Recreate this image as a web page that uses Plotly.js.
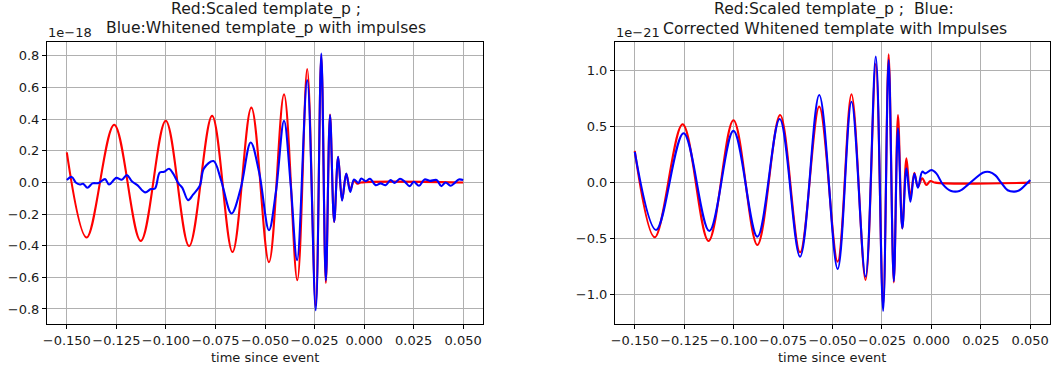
<!DOCTYPE html>
<html>
<head>
<meta charset="utf-8">
<script src="https://cdn.plot.ly/plotly-3.0.1.min.js"></script>
<style>
  html, body { margin: 0; padding: 0; background: #ffffff; }
  #chart { width: 1051px; height: 374px; }
</style>
</head>
<body>
<div id="chart"></div>
<script>
// Left panel: scaled template_p (red) vs whitened template_p with impulses (blue), units of 1e-18.
// Red is given at its turning points; the spline draws the swings between them.
const pRedT = [-0.150, -0.1400, -0.1261, -0.1127, -0.1001, -0.0883, -0.0767, -0.0664, -0.0569, -0.0480,
  -0.0404, -0.0337, -0.0287, -0.0244, -0.0216, -0.0193, -0.0172, -0.0151, -0.0131, -0.0111,
  -0.0090, -0.0070, -0.0050, -0.0035, -0.0015, 0.050];
const pRedV = [0.19, -0.348, 0.365, -0.370, 0.390, -0.402, 0.421, -0.439, 0.473, -0.504,
  0.557, -0.618, 0.717, -0.78, 0.80, -0.635, 0.43, -0.25, 0.16, -0.11,
  0.055, -0.045, 0.012, -0.008, 0, 0];

const pBlueT = [-0.1500, -0.1475, -0.1455, -0.1434, -0.1418, -0.1396, -0.1371, -0.1340, -0.1307, -0.1287,
  -0.1250, -0.1223, -0.1197, -0.1172, -0.1144, -0.1105, -0.1076, -0.1055, -0.1031, -0.1009,
  -0.0984, -0.0964, -0.0937, -0.0917, -0.0888, -0.0863, -0.0829, -0.0808, -0.0760, -0.0723,
  -0.0669, -0.0623, -0.0572, -0.0530, -0.0480, -0.0445, -0.0404, -0.0370, -0.0338,
  -0.0287, -0.0244, -0.0216, -0.0193, -0.0172,
  -0.0151, -0.0131, -0.0111, -0.0090, -0.0070, -0.0051,
  -0.0029, -0.0014, 0.0008, 0.0030, 0.0058, 0.0083, 0.0109, 0.0134, 0.0154, 0.0181,
  0.0206, 0.0230, 0.0251, 0.0277, 0.0305, 0.0332, 0.0366, 0.0389, 0.0411, 0.0436,
  0.0457, 0.0478, 0.0500];
const pBlueV = [0.015, 0.035, 0.0, -0.013, -0.008, -0.034, -0.006, -0.004, 0.021, -0.013,
  0.029, 0.017, 0.046, 0.008, -0.017, -0.063, -0.042, -0.038, 0.063, 0.067,
  0.087, 0.057, -0.006, -0.034, -0.112, -0.077, -0.021, 0.089, 0.135, 0.020,
  -0.196, -0.040, 0.253, 0.067, -0.302, -0.06, 0.390, -0.02, -0.491,
  0.647, -0.808, 0.815, -0.620, 0.426,
  -0.249, 0.162, -0.115, 0.057, -0.060, 0.019,
  -0.003, 0.025, 0.008, 0.023, -0.017, -0.006, -0.017, 0.015, -0.003, 0.023,
  0.004, -0.023, 0.004, -0.021, 0.019, 0.010, 0.015, -0.023, 0.0, -0.021,
  -0.003, 0.019, 0.015];

// Right panel: scaled template_p (red) vs corrected whitened template with impulses (blue), units of 1e-21
const cRedT = [-0.150, -0.1399, -0.1258, -0.1127, -0.1001, -0.0880, -0.0765, -0.0664, -0.0567, -0.0474,
  -0.0404, -0.0333, -0.0281, -0.0244, -0.0216, -0.0190, -0.0169, -0.0147, -0.0126, -0.0106,
  -0.0086, -0.0068, -0.0046, -0.0025, -0.0005, 0.0020, 0.050];
const cRedV = [0.283, -0.488, 0.521, -0.521, 0.557, -0.556, 0.604, -0.622, 0.679, -0.705,
  0.789, -0.869, 1.06, -1.10, 1.146, -0.89, 0.604, -0.408, 0.217, -0.13,
  0.089, -0.036, 0.039, -0.02, 0.015, 0, 0];

const cBlueT = [-0.150, -0.1392, -0.1253, -0.1123, -0.1001, -0.0880, -0.0767, -0.0664, -0.0567, -0.0474,
  -0.0404, -0.0333, -0.0281, -0.0244, -0.0216, -0.0190, -0.0169, -0.0147, -0.0126, -0.0106,
  -0.0086, -0.0068, -0.0046, -0.0030, 0.0000, 0.0025, 0.0058, 0.0100, 0.0142, 0.0184,
  0.0223, 0.0260, 0.0294, 0.0324, 0.0353, 0.0386, 0.0420, 0.0445, 0.0470, 0.0500];
const cBlueV = [0.275, -0.422, 0.441, -0.431, 0.462, -0.482, 0.569, -0.661, 0.783, -0.771,
  0.723, -0.839, 1.125, -1.146, 1.095, -0.88, 0.485, -0.408, 0.128, -0.17,
  0.08, -0.045, 0.098, 0.083, 0.113, 0.083, -0.015, -0.074, -0.074, -0.02,
  0.039, 0.089, 0.095, 0.065, 0.0, -0.068, -0.08, -0.068, -0.03, 0.024];

// Tick positions and labels
const xTickVals = [-0.150, -0.125, -0.100, -0.075, -0.050, -0.025, 0.000, 0.025, 0.050];
const xTickText = ['\u22120.150', '\u22120.125', '\u22120.100', '\u22120.075', '\u22120.050', '\u22120.025', '0.000', '0.025', '0.050'];
const pYTickVals = [-0.8, -0.6, -0.4, -0.2, 0.0, 0.2, 0.4, 0.6, 0.8];
const pYTickText = ['\u22120.8', '\u22120.6', '\u22120.4', '\u22120.2', '0.0', '0.2', '0.4', '0.6', '0.8'];
const cYTickVals = [-1.0, -0.5, 0.0, 0.5, 1.0];
const cYTickText = ['\u22121.0', '\u22120.5', '0.0', '0.5', '1.0'];

const W = 1051, H = 374;
const px = v => v / W;
const py = v => 1 - v / H;

const lineW = 2.1;
const RED = '#ff0000', BLUE = '#0000ff';
const TXT = '#1a1a1a';
const FONT = 'DejaVu Sans, sans-serif';

const curve = (x, y, xa, ya, color) => ({
  x: x, y: y, xaxis: xa, yaxis: ya, mode: 'lines',
  line: { color: color, width: lineW, shape: 'spline', smoothing: 1 }, hoverinfo: 'skip'
});

const traces = [
  curve(pRedT, pRedV, 'x', 'y', RED),
  curve(pBlueT, pBlueV, 'x', 'y', BLUE),
  curve(cRedT, cRedV, 'x2', 'y2', RED),
  curve(cBlueT, cBlueV, 'x2', 'y2', BLUE)
];

function xAxis(domain, anchor) {
  return {
    domain: domain, anchor: anchor, range: [-0.16, 0.06],
    tickvals: xTickVals, ticktext: xTickText, tickangle: 0,
    showgrid: true, gridcolor: '#b0b0b0', gridwidth: 1, zeroline: false,
    showline: true, linecolor: '#000000', linewidth: 1, mirror: true,
    ticks: 'outside', ticklen: 4, tickcolor: '#000000', tickwidth: 1,
    tickfont: { family: FONT, size: 13, color: TXT }, fixedrange: true
  };
}
function yAxis(range, vals, text, anchor) {
  return {
    domain: [py(324), py(42)], anchor: anchor, range: range,
    tickvals: vals, ticktext: text, tickangle: 0,
    showgrid: true, gridcolor: '#b0b0b0', gridwidth: 1, zeroline: false,
    showline: true, linecolor: '#000000', linewidth: 1, mirror: true,
    ticks: 'outside', ticklen: 4, tickcolor: '#000000', tickwidth: 1,
    tickfont: { family: FONT, size: 13, color: TXT }, fixedrange: true
  };
}

const txt = (text, x, y, size, xanchor) => ({
  text: text, xref: 'paper', yref: 'paper', x: px(x), y: py(y),
  xanchor: xanchor || 'center', yanchor: 'middle', showarrow: false,
  font: { family: FONT, size: size, color: TXT }
});

const layout = {
  width: W, height: H,
  margin: { l: 0, r: 0, t: 0, b: 0 },
  paper_bgcolor: '#ffffff', plot_bgcolor: '#ffffff',
  showlegend: false,
  xaxis: xAxis([px(47), px(483)], 'y'),
  yaxis: yAxis([-0.895, 0.888], pYTickVals, pYTickText, 'x'),
  xaxis2: xAxis([px(615), px(1050)], 'y2'),
  yaxis2: yAxis([-1.262, 1.256], cYTickVals, cYTickText, 'x2'),
  annotations: [
    txt('Red:Scaled template_p ;', 266, 10, 15.6),
    txt('Blue:Whitened template_p with impulses', 266, 29, 15.6),
    txt('1e\u221218', 46, 32, 13, 'left'),
    txt('time since event', 265, 357, 13),
    txt('Red:Scaled template_p ;  Blue:', 834, 10, 15.6),
    txt('Corrected Whitened template with Impulses', 835, 29, 15.6),
    txt('1e\u221221', 614, 32, 13, 'left'),
    txt('time since event', 832, 357, 13)
  ]
};

Plotly.newPlot('chart', traces, layout, { staticPlot: true, displayModeBar: false });
</script>
</body>
</html>
